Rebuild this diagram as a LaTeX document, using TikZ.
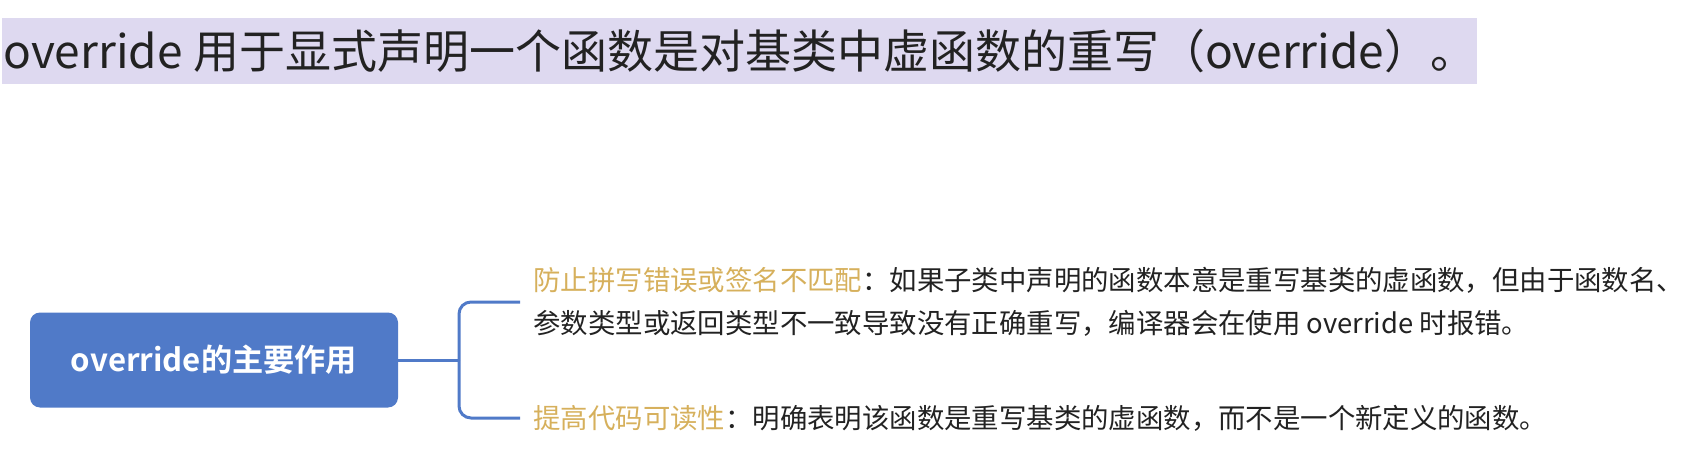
\documentclass[tikz,border=0pt]{standalone}
\usepackage{fontspec}
\setmainfont{Noto Sans CJK SC}[BoldFont={Noto Sans CJK SC Bold}]
\usepackage{tikz}
\usetikzlibrary{positioning}
\definecolor{mmblue}{RGB}{80,122,200}
\definecolor{mmlavender}{RGB}{222,217,240}
\definecolor{mmgold}{RGB}{214,176,92}
\definecolor{mmtext}{RGB}{34,34,34}
\tikzstyle{rootbox} = [fill=mmblue, rounded corners=5pt, minimum width=184pt, minimum height=47.5pt, text=white, font=\fontsize{15.6}{18}\selectfont\bfseries]
\tikzstyle{leaf} = [anchor=west, align=left, inner xsep=6.5pt, text=mmtext, font=\fontsize{13.7}{21.5}\selectfont]
\tikzstyle{branch} = [line width=1.5pt, color=mmblue, rounded corners=6pt]

\begin{document}
\begin{tikzpicture}[x=0.5pt,y=-0.5pt]
\useasboundingbox (0,0) rectangle (1683,460);
% Title bar
\fill[mmlavender] (2,18) rectangle (1477,84);
\node[anchor=west, inner sep=0pt, text=mmtext, font=\fontsize{23}{28}\selectfont] (title) at (3,51) {override 用于显式声明一个函数是对基类中虚函数的重写（override）。};

% Root
\node[rootbox] (root) at (214,360) {override的主要作用};

% Leaves
\node[leaf] (why1) at (520,302) {\textcolor{mmgold}{防止拼写错误或签名不匹配}：如果子类中声明的函数本意是重写基类的虚函数，但由于函数名、\\参数类型或返回类型不一致导致没有正确重写，编译器会在使用 override 时报错。};
\node[leaf] (why2) at (520,418) {\textcolor{mmgold}{提高代码可读性}：明确表明该函数是重写基类的虚函数，而不是一个新定义的函数。};

% Branches
\coordinate (fork) at (459,360);
\draw[branch] (root.east) -- (fork);
\draw[branch] (fork) |- (why1.west);
\draw[branch] (fork) |- (why2.west);
\end{tikzpicture}
\end{document}
